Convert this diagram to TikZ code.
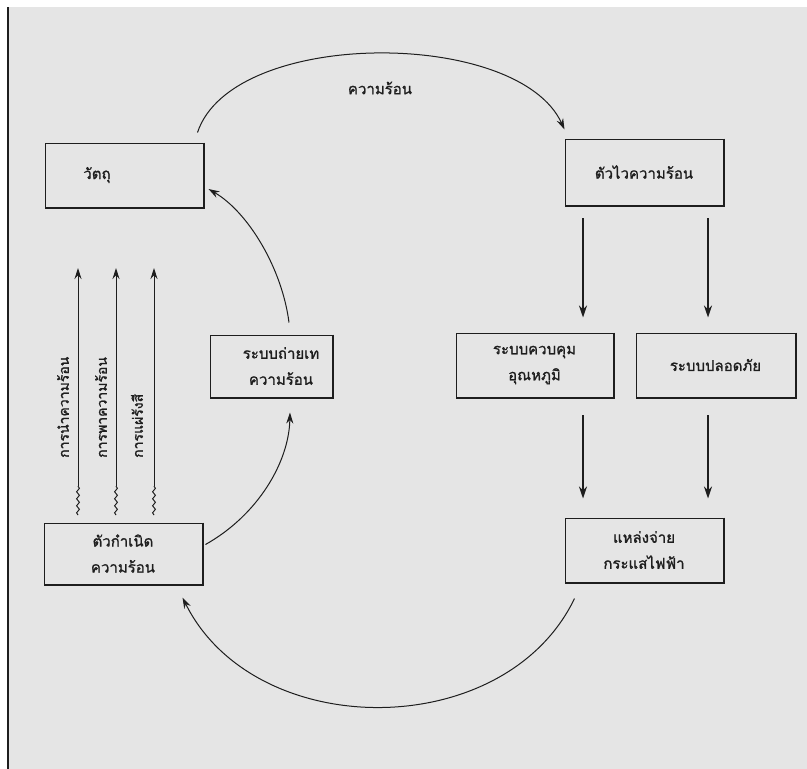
\documentclass[tikz,border=0pt]{standalone}
\usepackage{fontspec}
\newfontfamily\thai[Script=Thai,FakeBold=1.2]{Loma}
\usetikzlibrary{arrows.meta,decorations.pathmorphing,calc}
\definecolor{paper}{RGB}{229,229,229}
\definecolor{ink}{RGB}{30,30,30}
\begin{document}
\begin{tikzpicture}[x=1pt,y=-1pt,
  box/.style={draw=ink, line width=1pt, inner sep=0pt, align=center, text=ink,
              font=\thai\fontsize{15}{26}\selectfont},
  lbl/.style={inner sep=0pt, text=ink, font=\thai\fontsize{14}{16}\selectfont},
  arc/.style={draw=ink, line width=1pt, -{Stealth[length=11pt,width=7pt]}},
  down/.style={draw=ink, line width=1.5pt, -{Stealth[length=12pt,width=8pt]}},
  wave/.style={draw=ink, line width=1pt, decorate,
               decoration={snake, amplitude=1.4pt, segment length=7pt}}]
\useasboundingbox (0,0) rectangle (807,769);
\fill[paper] (8,7) rectangle (807,769);
\draw[ink, line width=1.3pt] (8,7) -- (8,769);

% boxes
\node[box, minimum width=158pt, minimum height=64pt] (obj) at (124,175) {วัตถุ\hspace*{54pt}};
\node[box, minimum width=158pt, minimum height=66pt] (sensor) at (644,172) {ตัวไวความร้อน};
\node[box, minimum width=122pt, minimum height=62pt] (transfer) at (271,366) {\hspace*{20pt}ระบบถ่ายเท\\\hspace*{20pt}ความร้อน};
\node[box, minimum width=157pt, minimum height=64pt] (ctrl) at (534.5,365) {ระบบควบคุม\\อุณหภูมิ};
\node[box, minimum width=159pt, minimum height=64pt] (safety) at (715.5,365) {ระบบปลอดภัย};
\node[box, minimum width=158pt, minimum height=61pt] (gen) at (123,553.5) {ตัวกำเนิด\\ความร้อน};
\node[box, minimum width=158pt, minimum height=64pt] (supply) at (644,550) {แหล่งจ่าย\\กระแสไฟฟ้า};
\foreach \n in {obj,sensor,transfer,ctrl,safety,gen,supply}
  \draw[ink, line width=2.4pt] ($(\n.north east)+(0.7,0)$) -- ($(\n.south east)+(0.7,0.7)$) -- ($(\n.south west)+(0,0.7)$);

% top heat arc
\coordinate (t1) at ($(obj.north east)+(-6,-10)$);
\coordinate (t2) at ($(sensor.north west)+(0,-9)$);
\draw[arc] (t1) .. controls (232,28) and (518,28) .. (t2);
\node[lbl, font=\thai\fontsize{15}{17}\selectfont] (heat) at (380,88) {ความร้อน};

% generator -> transfer -> object
\coordinate (g1) at ($(gen.east)+(3,-9)$);
\coordinate (tr1) at ($(transfer.south)+(19,15)$);
\draw[arc] (g1) .. controls (258,515) and (289,462) .. (tr1);
\coordinate (tr2) at ($(transfer.north)+(18,-12)$);
\coordinate (o1) at ($(obj.east)+(5,14)$);
\draw[arc] (tr2) .. controls (282,268) and (248,212) .. (o1);

% sensor -> systems
\coordinate (s1) at (583,218);
\coordinate (s2) at (708,218);
\draw[down] (s1) -- ($(ctrl.north)+(48.5,-15)$);
\draw[down] (s2) -- ($(safety.north)+(-7.5,-15)$);
\coordinate (c1) at (583,415);
\coordinate (c2) at (708,415);
\draw[down] (c1) -- ($(supply.north)+(-61,-19)$);
\draw[down] (c2) -- ($(supply.north)+(64,-19)$);

% bottom arc supply -> generator
\coordinate (b1) at ($(supply.south west)+(10,16)$);
\coordinate (b2) at ($(gen.south east)+(-20,13)$);
\draw[arc] (b1) .. controls (505,743) and (255,743) .. (b2);

% wavy heat-transfer arrows
\foreach \x/\i in {78/1,116/2,154/3}{
  \coordinate (wb\i) at (\x,515);
  \coordinate (wm\i) at (\x,486);
  \coordinate (wt\i) at (\x,268);
  \draw[wave] (wb\i) -- (wm\i);
  \draw[arc] (wm\i) -- (wt\i);
}
\node[lbl, rotate=90, anchor=west] (cond) at (63,458) {การนำความร้อน};
\node[lbl, rotate=90, anchor=west] (conv) at (101,458) {การพาความร้อน};
\node[lbl, rotate=90, anchor=west] (rad) at (137,458) {การแผ่รังสี};
\end{tikzpicture}
\end{document}
